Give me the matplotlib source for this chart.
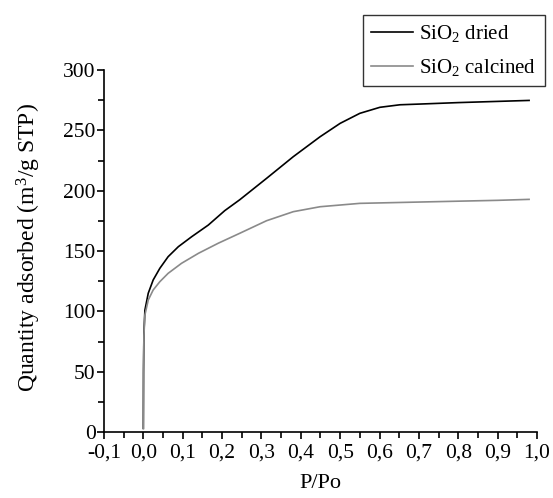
import matplotlib
matplotlib.use('Agg')
import matplotlib.pyplot as plt

plt.rcParams['font.family'] = ['Liberation Serif', 'DejaVu Serif']
plt.rcParams['mathtext.fontset'] = 'custom'
plt.rcParams['mathtext.rm'] = 'Liberation Serif'
plt.rcParams['mathtext.it'] = 'Liberation Serif:italic'

# isotherm data
dried_x = [0.0, 0.0005, 0.0015, 0.004, 0.0125, 0.025, 0.042, 0.063, 0.089, 0.123, 0.165,
           0.207, 0.245, 0.313, 0.381, 0.449, 0.5, 0.55, 0.601, 0.652, 0.703, 0.8, 0.9, 0.98]
dried_y = [3, 50, 82, 101, 115, 126, 135.7, 145.3, 153.6, 161.9, 171.5,
           183.5, 192.5, 210.2, 228.2, 244.7, 255.8, 264.1, 269.1, 271.2, 271.8, 273, 274, 274.8]
calc_x = [0.0, 0.0005, 0.0015, 0.004, 0.0125, 0.025, 0.042, 0.063, 0.097, 0.14, 0.19,
          0.245, 0.313, 0.381, 0.449, 0.55, 0.703, 0.8, 0.9, 0.98]
calc_y = [3, 50, 80, 97, 109.4, 117.7, 124.6, 131.5, 139.8, 148.1, 156.4,
          164.7, 175.1, 182.6, 186.7, 189.5, 190.6, 191.3, 192, 192.8]
xticks = [-0.1, 0.0, 0.1, 0.2, 0.3, 0.4, 0.5, 0.6, 0.7, 0.8, 0.9, 1.0]
yticks = [0, 50, 100, 150, 200, 250, 300]

fig = plt.figure(figsize=(5.53, 4.98), dpi=100)
ax = fig.add_axes([0.188, 0.1325, 0.783, 0.7269])

ax.plot(dried_x, dried_y, color='black', lw=1.2, label=r'SiO$_2$ dried')
ax.plot(calc_x, calc_y, color='#8a8a8a', lw=1.2, label=r'SiO$_2$ calcined')

ax.set_xlim(-0.1, 1.0)
ax.set_ylim(0, 300)
ax.set_xticks(xticks)
ax.set_xticklabels([('%.1f' % t).replace('.', ',') for t in xticks])
ax.set_yticks(yticks)
ax.set_xticks([t + 0.05 for t in xticks[:-1]], minor=True)
ax.set_yticks([t + 25 for t in yticks[:-1]], minor=True)

for s in ['top', 'right']:
    ax.spines[s].set_visible(False)
for s in ['left', 'bottom']:
    ax.spines[s].set_linewidth(1.2)
ax.tick_params(which='major', direction='out', length=5, width=1.2, labelsize=15.5, pad=1)
ax.tick_params(which='minor', direction='out', length=4, width=1.2)
ax.tick_params(axis='x', which='major', pad=3)

ax.set_xlabel('P/Po', fontsize=16)
ax.xaxis.set_label_coords(0.5, -0.115)
ax.set_ylabel(r'Quantity adsorbed (m$^3$/g STP)', fontsize=17)
ax.yaxis.set_label_coords(-0.141, 0.51)

leg = fig.legend(loc='upper left', bbox_to_anchor=(363 / 553, 1 - 15 / 498), fontsize=15,
                 frameon=True, fancybox=False, handlelength=2.0, handletextpad=0.3,
                 borderpad=0.4, labelspacing=0.6, borderaxespad=0)
leg.get_frame().set_edgecolor('black')
leg.get_frame().set_linewidth(1.0)

fig.savefig('out.png', dpi=100)
